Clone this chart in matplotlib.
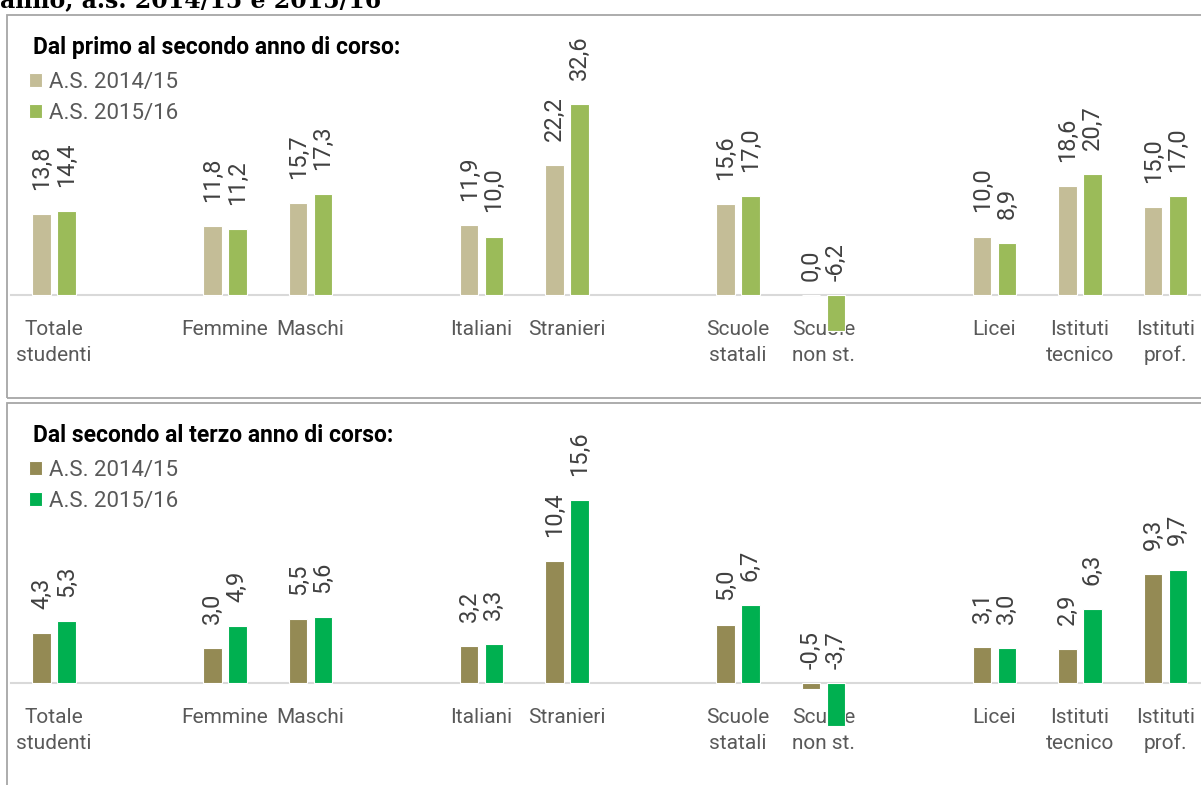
import matplotlib
matplotlib.use("Agg")
import matplotlib.pyplot as plt
from matplotlib.patches import Rectangle

plt.rcParams['font.family'] = ['Roboto', 'DejaVu Sans']

# categories and their slot on the x axis (empty slots separate the groups)
categories = ["Totale\nstudenti", "Femmine", "Maschi", "Italiani", "Stranieri",
              "Scuole\nstatali", "Scuole\nnon st.", "Licei", "Istituti\ntecnico",
              "Istituti\nprof."]
slots = [0, 2, 3, 5, 6, 8, 9, 11, 12, 13]

series_names = ["A.S. 2014/15", "A.S. 2015/16"]

# dal primo al secondo anno
first_1415 = [13.8, 11.8, 15.7, 11.9, 22.2, 15.6, 0.0, 10.0, 18.6, 15.0]
first_1516 = [14.4, 11.2, 17.3, 10.0, 32.6, 17.0, -6.2, 8.9, 20.7, 17.0]

# dal secondo al terzo anno
second_1415 = [4.3, 3.0, 5.5, 3.2, 10.4, 5.0, -0.5, 3.1, 2.9, 9.3]
second_1516 = [5.3, 4.9, 5.6, 3.3, 15.6, 6.7, -3.7, 3.0, 6.3, 9.7]

W, H = 1201, 785
fig = plt.figure(figsize=(W / 100, H / 100), dpi=100)
fig.patch.set_facecolor('white')

SLOT_PX = 85.5
CENTER0_PX = 54
label_col = '#595959'
value_col = '#404040'


def fy(px):
    return 1 - px / H


def fmt(v):
    return f"{v:.1f}".replace('.', ',')


def panel(vals_a, vals_b, colors, title, base_px, ppu, ylim, offset_y):
    left_px = CENTER0_PX - 0.5 * SLOT_PX
    bot_px = base_px - ylim[0] * ppu
    top_px = base_px - ylim[1] * ppu
    ax = fig.add_axes([left_px / W, fy(bot_px), 14 * SLOT_PX / W, (bot_px - top_px) / H])
    ax.set_xlim(-0.5, 13.5)
    ax.set_ylim(*ylim)
    ax.patch.set_alpha(0)

    bw = 0.216
    off = 0.144
    xa = [s - off for s in slots]
    xb = [s + off for s in slots]
    ba = ax.bar(xa, vals_a, bw, color=colors[0], edgecolor='white', linewidth=0.8,
                zorder=3, label=series_names[0])
    bb = ax.bar(xb, vals_b, bw, color=colors[1], edgecolor='white', linewidth=0.8,
                zorder=3, label=series_names[1])

    for xs, vs in ((xa, vals_a), (xb, vals_b)):
        for x, v in zip(xs, vs):
            pad = 17.3 if v > 0 else 10
            ax.annotate(fmt(v), xy=(x, max(v, 0)), xytext=(0, pad),
                        textcoords='offset points', rotation=90, ha='center',
                        va='bottom', fontsize=17, color=value_col, zorder=4)

    for side in ('top', 'right', 'left'):
        ax.spines[side].set_visible(False)
    ax.spines['bottom'].set_position(('data', 0))
    ax.spines['bottom'].set_color('#d9d9d9')
    ax.spines['bottom'].set_linewidth(1.5)
    ax.set_yticks([])
    ax.set_xticks(slots)
    ax.set_xticklabels(categories, fontsize=15, color=label_col, linespacing=1.45)
    ax.tick_params(axis='x', length=0, pad=18)

    fig.text(33 / W, fy(54 + offset_y), title, fontsize=16.5, fontweight='bold',
             color='black', va='baseline', ha='left')
    ax.legend(handles=[ba, bb], loc='upper left',
              bbox_to_anchor=(29 / W, fy(72 + offset_y)), bbox_transform=fig.transFigure,
              frameon=False, fontsize=16, labelcolor=label_col, handlelength=0.6,
              handleheight=0.6, handletextpad=0.3, labelspacing=0.45,
              borderpad=0, borderaxespad=0)
    return ax


panel(first_1415, first_1516, ('#c4bd97', '#9bbb59'),
      "Dal primo al secondo anno di corso:", 295, 5.85, (-15, 48), 0)
panel(second_1415, second_1516, ('#948a54', '#00b050'),
      "Dal secondo al terzo anno di corso:", 683, 11.7, (-8, 24), 388)

# panel frames
fig.add_artist(Rectangle((7 / W, fy(398)), 1.2, (398 - 15) / H, transform=fig.transFigure,
                         fill=False, edgecolor='#a6a6a6', linewidth=1.3))
fig.add_artist(Rectangle((7 / W, fy(820)), 1.2, (820 - 403) / H, transform=fig.transFigure,
                         fill=False, edgecolor='#a6a6a6', linewidth=1.3))

# title line cut off at the top of the picture, as in the source
fig.text(0, fy(7.5), "anno, a.s. 2014/15 e 2015/16", fontfamily='DejaVu Serif',
         fontweight='bold', fontsize=17, color='black', va='baseline', ha='left')

fig.savefig("out.png", dpi=100, facecolor='white')
